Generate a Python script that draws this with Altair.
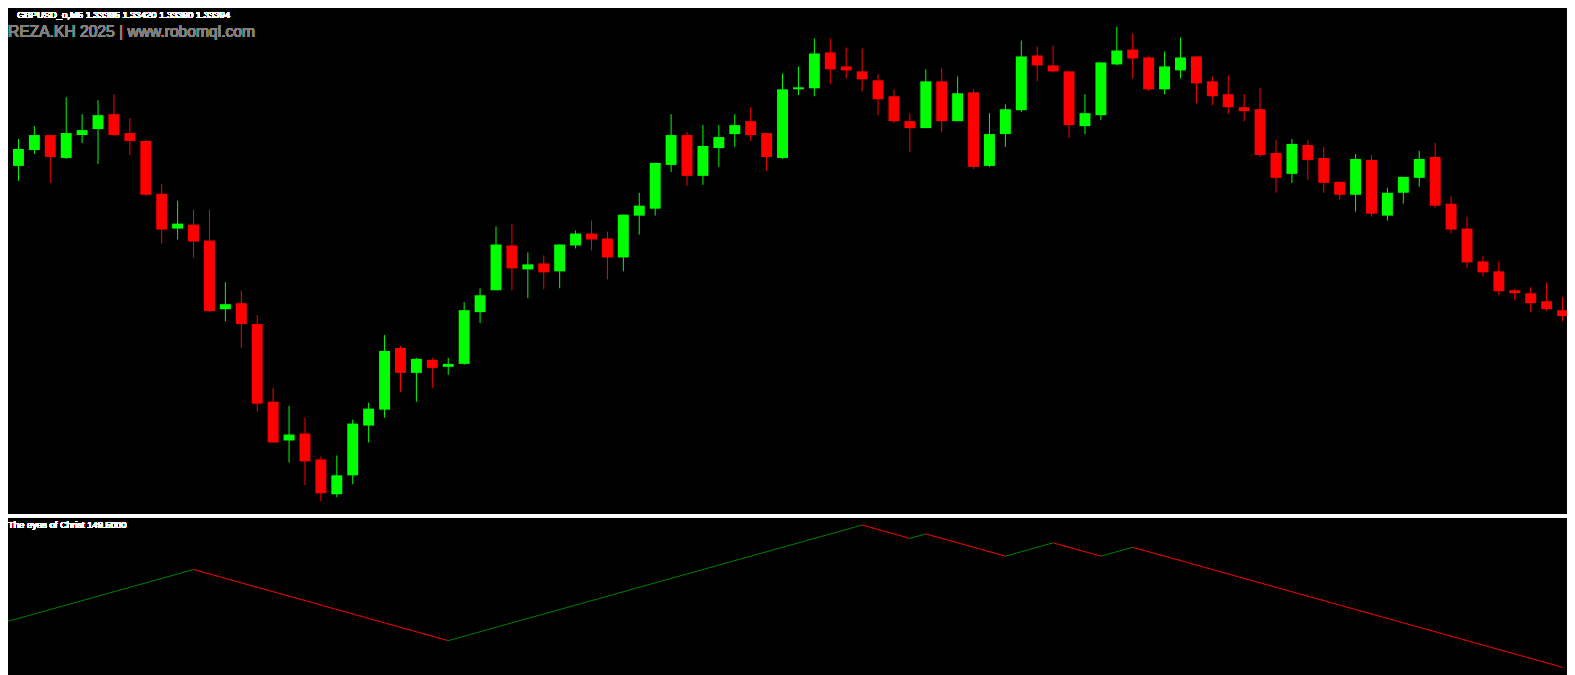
import altair as alt
import pandas as pd

# ---------------- data ----------------
symbol = "GBPUSD_o,M5"
quote = ["1.33395", "1.33420", "1.33390", "1.33394"]
watermark = "REZA.KH 2025 | www.robomql.com"
indicator_name = "The eyes of Christ"
indicator_value = "149.5000"

open_ = [1.33510, 1.33541, 1.33557, 1.33572, 1.33549, 1.33572, 1.33578, 1.33593, 1.33574, 1.33566,
         1.33513, 1.33478, 1.33482, 1.33466, 1.33397, 1.33403, 1.33382, 1.33304, 1.33265, 1.33272,
         1.33246, 1.33211, 1.33230, 1.33280, 1.33296, 1.33358, 1.33333, 1.33346, 1.33339, 1.33342,
         1.33394, 1.33416, 1.33461, 1.33437, 1.33443, 1.33435, 1.33461, 1.33473, 1.33468, 1.33449,
         1.33491, 1.33498, 1.33542, 1.33572, 1.33531, 1.33559, 1.33573, 1.33586, 1.33574, 1.33549,
         1.33618, 1.33619, 1.33655, 1.33641, 1.33636, 1.33627, 1.33611, 1.33586, 1.33579, 1.33626,
         1.33586, 1.33615, 1.33541, 1.33573, 1.33597, 1.33652, 1.33642, 1.33636, 1.33581, 1.33592,
         1.33643, 1.33658, 1.33650, 1.33618, 1.33637, 1.33651, 1.33626, 1.33613, 1.33600, 1.33598,
         1.33554, 1.33533, 1.33562, 1.33549, 1.33525, 1.33512, 1.33547, 1.33491, 1.33514, 1.33529,
         1.33550, 1.33503, 1.33478, 1.33445, 1.33435, 1.33416, 1.33413, 1.33405, 1.33396]

close = [1.33540, 1.33558, 1.33572, 1.33550, 1.33574, 1.33577, 1.33592, 1.33572, 1.33566, 1.33512,
         1.33477, 1.33483, 1.33465, 1.33395, 1.33402, 1.33382, 1.33302, 1.33263, 1.33271, 1.33244,
         1.33212, 1.33230, 1.33282, 1.33297, 1.33355, 1.33333, 1.33347, 1.33338, 1.33342, 1.33396,
         1.33411, 1.33462, 1.33438, 1.33442, 1.33434, 1.33462, 1.33473, 1.33467, 1.33449, 1.33492,
         1.33501, 1.33544, 1.33572, 1.33531, 1.33561, 1.33570, 1.33582, 1.33572, 1.33550, 1.33618,
         1.33620, 1.33654, 1.33638, 1.33637, 1.33628, 1.33608, 1.33586, 1.33579, 1.33626, 1.33586,
         1.33614, 1.33540, 1.33573, 1.33598, 1.33651, 1.33642, 1.33636, 1.33582, 1.33594, 1.33645,
         1.33657, 1.33649, 1.33618, 1.33641, 1.33650, 1.33624, 1.33611, 1.33600, 1.33596, 1.33552,
         1.33529, 1.33563, 1.33547, 1.33524, 1.33512, 1.33548, 1.33493, 1.33514, 1.33530, 1.33548,
         1.33501, 1.33477, 1.33444, 1.33434, 1.33415, 1.33413, 1.33403, 1.33397, 1.33390]

high = [1.33554, 1.33568, 1.33581, 1.33572, 1.33610, 1.33593, 1.33607, 1.33613, 1.33589, 1.33567,
        1.33523, 1.33506, 1.33497, 1.33497, 1.33424, 1.33416, 1.33391, 1.33318, 1.33300, 1.33288,
        1.33249, 1.33250, 1.33286, 1.33303, 1.33371, 1.33360, 1.33348, 1.33348, 1.33348, 1.33404,
        1.33418, 1.33480, 1.33483, 1.33454, 1.33451, 1.33462, 1.33476, 1.33486, 1.33475, 1.33492,
        1.33514, 1.33544, 1.33593, 1.33575, 1.33582, 1.33582, 1.33593, 1.33600, 1.33574, 1.33634,
        1.33641, 1.33669, 1.33669, 1.33660, 1.33659, 1.33633, 1.33618, 1.33594, 1.33638, 1.33639,
        1.33631, 1.33618, 1.33594, 1.33603, 1.33667, 1.33661, 1.33662, 1.33636, 1.33613, 1.33645,
        1.33681, 1.33674, 1.33651, 1.33656, 1.33670, 1.33651, 1.33631, 1.33632, 1.33613, 1.33619,
        1.33567, 1.33568, 1.33567, 1.33560, 1.33525, 1.33553, 1.33552, 1.33519, 1.33530, 1.33556,
        1.33564, 1.33511, 1.33490, 1.33450, 1.33445, 1.33417, 1.33419, 1.33424, 1.33409]

low = [1.33498, 1.33526, 1.33553, 1.33524, 1.33548, 1.33564, 1.33543, 1.33571, 1.33552, 1.33511,
       1.33463, 1.33467, 1.33449, 1.33394, 1.33385, 1.33358, 1.33294, 1.33263, 1.33243, 1.33220,
       1.33204, 1.33208, 1.33221, 1.33263, 1.33288, 1.33314, 1.33304, 1.33318, 1.33331, 1.33341,
       1.33383, 1.33416, 1.33416, 1.33408, 1.33417, 1.33418, 1.33458, 1.33456, 1.33427, 1.33435,
       1.33472, 1.33491, 1.33535, 1.33521, 1.33522, 1.33540, 1.33560, 1.33566, 1.33536, 1.33548,
       1.33612, 1.33611, 1.33623, 1.33629, 1.33616, 1.33592, 1.33584, 1.33555, 1.33579, 1.33575,
       1.33586, 1.33538, 1.33540, 1.33560, 1.33595, 1.33626, 1.33635, 1.33569, 1.33573, 1.33587,
       1.33642, 1.33629, 1.33616, 1.33613, 1.33629, 1.33604, 1.33602, 1.33593, 1.33586, 1.33550,
       1.33514, 1.33524, 1.33527, 1.33514, 1.33507, 1.33495, 1.33490, 1.33486, 1.33503, 1.33520,
       1.33499, 1.33473, 1.33438, 1.33430, 1.33411, 1.33406, 1.33394, 1.33395, 1.33385]

# indicator turning points: bar index and value
pivot_bar = [0, 12, 28, 54, 57, 58, 63, 66, 69, 71, 98]
pivot_val = [159.5, 171.5, 155.5, 181.5, 178.5, 179.5, 174.5, 177.5, 174.5, 176.5, 149.5]

# ---------------- tables ----------------
candles = pd.DataFrame({
    "bar": list(range(len(open_))),
    "open": open_, "high": high, "low": low, "close": close,
})
candles["dir"] = ["up" if c > o else "down" for o, c in zip(open_, close)]

segs = pd.DataFrame({
    "x": pivot_bar[:-1], "x2": pivot_bar[1:],
    "v": pivot_val[:-1], "v2": pivot_val[1:],
})
segs["dir"] = ["up" if b > a else "down" for a, b in zip(pivot_val[:-1], pivot_val[1:])]

W, H = 1567, 667
n = len(open_)

xs = alt.Scale(domain=[0, n - 1], range=[-5.5, 16 * (n - 1) - 5.5], nice=False, zero=False, padding=0)
ps = alt.Scale(domain=[1.33191, 1.33698], range=[507, 0], nice=False, zero=False, padding=0)
ind_s = alt.Scale(domain=[149.5, 181.5], range=[661, 518], nice=False, zero=False, padding=0)

candle_color = alt.Color("dir:N", scale=alt.Scale(domain=["up", "down"], range=["#00FF00", "#FF0000"]), legend=None)
ind_color = alt.Color("dir:N", scale=alt.Scale(domain=["up", "down"], range=["#008000", "#FF0000"]), legend=None)

wicks = alt.Chart(candles).mark_rule(strokeWidth=1).encode(
    x=alt.X("bar:Q", scale=xs, axis=None),
    y=alt.Y("high:Q", scale=ps, axis=None),
    y2="low:Q",
    color=candle_color,
)
bodies = alt.Chart(candles).mark_bar(size=11, cornerRadius=0).encode(
    x=alt.X("bar:Q", scale=xs, axis=None),
    y=alt.Y("open:Q", scale=ps, axis=None),
    y2="close:Q",
    color=candle_color,
)

ind = alt.Chart(segs).mark_rule(strokeWidth=1).encode(
    x=alt.X("x:Q", scale=xs, axis=None),
    x2="x2:Q",
    y=alt.Y("v:Q", scale=ind_s, axis=None),
    y2="v2:Q",
    color=ind_color,
)

sep1 = alt.Chart(candles).mark_rule(color="white", strokeWidth=1).encode(
    x=alt.value(0), x2=alt.value(W), y=alt.value(507.5))
sep2 = alt.Chart(candles).mark_rule(color="white", strokeWidth=1).encode(
    x=alt.value(0), x2=alt.value(W), y=alt.value(509.5))

header = alt.Chart(candles).mark_text(
    text=symbol + "  " + " ".join(quote), align="left", baseline="top",
    font="Liberation Sans", fontSize=9.5, color="white"
).encode(x=alt.value(9), y=alt.value(0))

wm = alt.Chart(candles).mark_text(
    text=watermark, align="left", baseline="alphabetic",
    font="Liberation Sans", fontSize=15.7, color="#808080"
).encode(x=alt.value(0), y=alt.value(27.5))

ind_label = alt.Chart(candles).mark_text(
    text=indicator_name + " " + indicator_value, align="left", baseline="alphabetic",
    font="Liberation Sans", fontSize=9.5, color="white"
).encode(x=alt.value(0), y=alt.value(521))

chart = alt.layer(wicks, bodies, ind, sep1, sep2, header, wm, ind_label).resolve_scale(
    y="independent", color="independent"
).properties(
    width=W, height=H, background="black", padding=0,
    autosize=alt.AutoSizeParams(type="none"),
).configure_view(stroke=None)

chart.save("out.html", embed_options={"renderer": "svg", "actions": False})
